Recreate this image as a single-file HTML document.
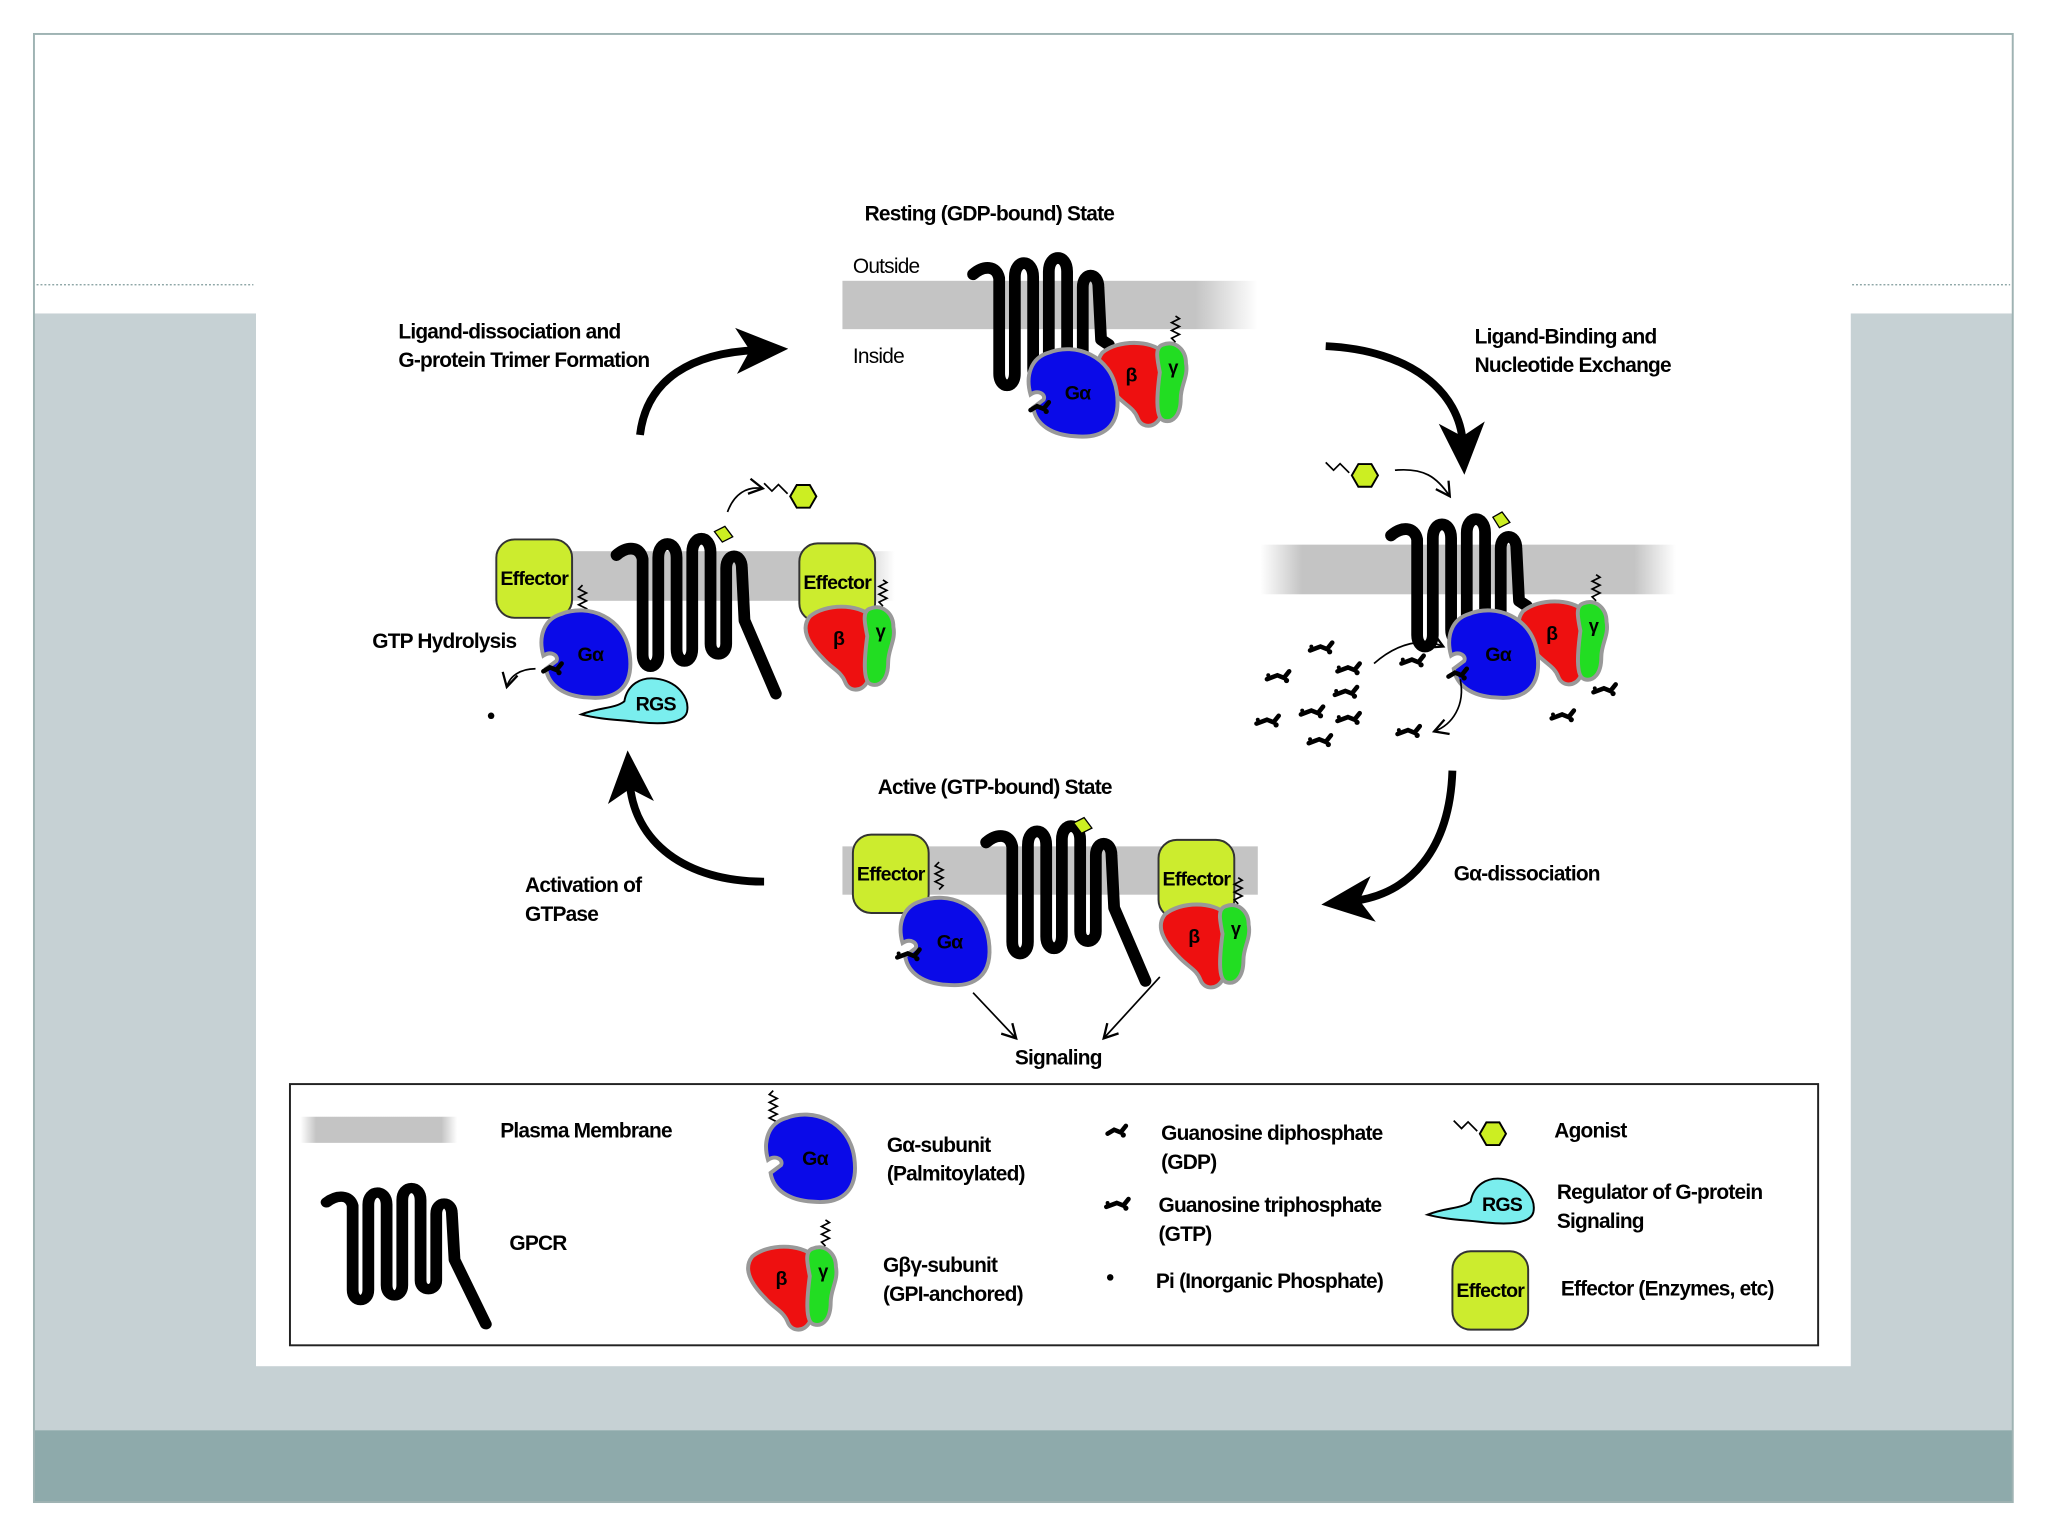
<!DOCTYPE html>
<html><head><meta charset="utf-8"><style>html,body{margin:0;padding:0;background:#fff}svg{display:block}text{font-family:"Liberation Sans",sans-serif;font-weight:bold;letter-spacing:-0.6px}</style></head>
<body>
<svg width="2048" height="1536" viewBox="0 0 1568 1176" preserveAspectRatio="none" xmlns="http://www.w3.org/2000/svg">
<defs>
<linearGradient id="mem" x1="0" x2="1"><stop offset="0" stop-color="#c4c4c4"/><stop offset="0.85" stop-color="#c4c4c4"/><stop offset="1" stop-color="#c4c4c4" stop-opacity="0"/></linearGradient>
<linearGradient id="mem2" x1="0" x2="1"><stop offset="0" stop-color="#c4c4c4" stop-opacity="0"/><stop offset="0.1" stop-color="#c4c4c4"/><stop offset="0.9" stop-color="#c4c4c4"/><stop offset="1" stop-color="#c4c4c4" stop-opacity="0"/></linearGradient>
<marker id="big" markerUnits="userSpaceOnUse" markerWidth="40" markerHeight="40" viewBox="0 0 34 30" refX="14" refY="15" orient="auto"><path d="M0,0 L34,15 L0,30 L9,15 Z" fill="#000"/></marker>
<marker id="sm" markerUnits="userSpaceOnUse" markerWidth="14" markerHeight="14" viewBox="0 0 12 12" refX="10" refY="6" orient="auto"><path d="M1,1 L10,6 L1,11" fill="none" stroke="#000" stroke-width="1.5"/></marker>
<g id="gpcr"><path d="M0,12 C8,5 18,5 20,15 L20,88 C20,100 32,100 32,88 L32,14 C32,0 46,0 46,14 L46,84 C46,96 58,96 58,84 L58,10 C58,-4 72,-4 72,10 L72,80 C72,90 84,90 84,80 L84,22 C84,10 96,10 96,22 L98,62 L104,66" fill="none" stroke="#000" stroke-width="9" stroke-linejoin="round" stroke-linecap="round"/></g>
<g id="gpcrT"><path d="M0,12 C8,5 18,5 20,15 L20,88 C20,100 32,100 32,88 L32,14 C32,0 46,0 46,14 L46,84 C46,96 58,96 58,84 L58,10 C58,-4 72,-4 72,10 L72,80 C72,90 84,90 84,80 L84,22 C84,10 96,10 96,22 L98,62 L122,118" fill="none" stroke="#000" stroke-width="9" stroke-linejoin="round" stroke-linecap="round"/></g>
<g id="ga"><path d="M-20,-30 C0,-38 28,-28 32,0 C36,28 20,36 0,34 C-18,33 -30,25 -32,12 L-24,6 C-22,2 -28,-2 -34,2 C-38,-12 -34,-26 -20,-30 Z" fill="#0a0ae8" stroke="#999" stroke-width="3"/><text x="2" y="6" font-size="15" text-anchor="middle" fill="#000">Gα</text></g>
<g id="gby"><path d="M-22,-20 C-10,-30 15,-30 25,-20 C30,-5 28,15 22,30 C18,38 8,38 5,30 C2,22 -5,20 -12,12 C-22,2 -30,-10 -22,-20 Z" fill="#ee1010" stroke="#999" stroke-width="3"/><text x="0" y="2" font-size="15" text-anchor="middle">β</text>
<path d="M24,-26 C34,-30 42,-22 42,-12 C44,-2 38,5 38,15 C38,28 32,34 25,32 C18,30 20,10 22,-5 C20,-15 18,-24 24,-26Z" fill="#22dd22" stroke="#999" stroke-width="3"/><text x="32" y="-4" font-size="14" text-anchor="middle">γ</text>
<path d="M34,-28 l-3,-3 l6,-3 l-6,-3 l6,-3 l-6,-3 l6,-3 l-3,-2" fill="none" stroke="#000" stroke-width="1.3"/></g>
<g id="eff"><rect x="0" y="0" width="58" height="60" rx="14" fill="#ccec2e" stroke="#333" stroke-width="1.5"/><text x="29" y="35" font-size="15" text-anchor="middle">Effector</text></g>
<g id="lig"><path d="M-30,-10 l6,6 l5,-5 l7,7" fill="none" stroke="#000" stroke-width="1.3"/><polygon points="10,0 5,8.7 -5,8.7 -10,0 -5,-8.7 5,-8.7" fill="#ccee22" stroke="#000" stroke-width="1.5"/></g>
<g id="gdp"><path d="M-7,2 L-2,-1 L3,1 L7,-4" fill="none" stroke="#000" stroke-width="3.5" stroke-linecap="round"/><circle cx="5" cy="3" r="2"/></g>
<g id="gtp"><path d="M-10,2 L-2,-1 L3,1 L7,-4" fill="none" stroke="#000" stroke-width="3.5" stroke-linecap="round"/><circle cx="5" cy="3" r="2"/><circle cx="-9" cy="-1" r="1.5"/></g>
<g id="rgs"><path d="M-45,12 C-30,6 -20,8 -12,2 C-10,-10 0,-18 15,-15 C30,-12 38,0 36,10 C34,18 20,20 0,18 C-15,16 -30,16 -45,12 Z" fill="#7aeeee" stroke="#000" stroke-width="1.5"/><text x="12" y="9" font-size="15" text-anchor="middle">RGS</text></g>
</defs>

<rect x="0" y="0" width="1568" height="1176" fill="#fff"/>
<rect x="26" y="240" width="1515" height="855" fill="#c6d1d4"/>
<rect x="26" y="1095" width="1515" height="55" fill="#8eaaab"/>
<rect x="196" y="26" width="1221" height="1020" fill="#fff"/>
<rect x="26" y="26" width="1515" height="1124" fill="none" stroke="#9fb3b3" stroke-width="1.5"/>
<line x1="28" y1="218" x2="194" y2="218" stroke="#8fa" stroke-width="1" stroke-dasharray="1.5 1.5" style="stroke:#7f9a9a"/>
<line x1="1418" y1="218" x2="1539" y2="218" stroke-width="1" stroke-dasharray="1.5 1.5" style="stroke:#7f9a9a"/>

<!-- Resting -->
<text x="662" y="169" font-size="16">Resting (GDP-bound) State</text>
<rect x="645" y="215" width="318" height="37" fill="url(#mem)"/>
<text x="653" y="209" font-size="16" font-weight="normal" style="font-weight:normal">Outside</text>
<text x="653" y="278" font-size="16" style="font-weight:normal">Inside</text>
<use href="#gpcr" transform="translate(745,198)"/>
<use href="#gby" transform="translate(866,290)"/>
<use href="#ga" transform="translate(823,300)"/>
<use href="#gdp" transform="translate(796,312)"/>

<!-- Right -->
<text x="1129" y="263" font-size="16">Ligand-Binding and</text>
<text x="1129" y="285" font-size="16">Nucleotide Exchange</text>
<rect x="965" y="417" width="318" height="38" fill="url(#mem2)"/>
<use href="#lig" transform="translate(1045,364)"/>
<path d="M1068,360 C1090,358 1100,365 1110,380" fill="none" stroke="#000" stroke-width="1.3" marker-end="url(#sm)"/>
<polygon points="1148,404 1143,396 1150,392 1156,400" fill="#ccee22" stroke="#000"/>
<use href="#gpcr" transform="translate(1065,398)"/>
<use href="#gby" transform="translate(1188,488)"/>
<use href="#ga" transform="translate(1145,500)"/>
<use href="#gdp" transform="translate(1116,516)"/>
<path d="M1052,508 C1070,492 1090,488 1105,495" fill="none" stroke="#000" stroke-width="1.3" marker-end="url(#sm)"/>
<path d="M1118,520 C1122,540 1112,555 1098,560" fill="none" stroke="#000" stroke-width="1.3" marker-end="url(#sm)"/>
<use href="#gtp" transform="translate(1013,496)"/><use href="#gtp" transform="translate(980,518)"/>
<use href="#gtp" transform="translate(1034,512)"/><use href="#gtp" transform="translate(1083,506)"/>
<use href="#gtp" transform="translate(1032,530)"/><use href="#gtp" transform="translate(1006,545)"/>
<use href="#gtp" transform="translate(972,552)"/><use href="#gtp" transform="translate(1034,550)"/>
<use href="#gtp" transform="translate(1012,567)"/><use href="#gtp" transform="translate(1080,560)"/>
<use href="#gtp" transform="translate(1198,548)"/><use href="#gtp" transform="translate(1230,528)"/>

<!-- Bottom -->
<text x="672" y="608" font-size="16">Active (GTP-bound) State</text>
<rect x="645" y="648" width="318" height="37" fill="#c4c4c4"/>
<use href="#eff" transform="translate(653,639)"/>
<path d="M719,660 l-3,3 l6,3 l-6,3 l6,3 l-6,3 l6,3 l-3,3" fill="none" stroke="#000" stroke-width="1.3"/>
<use href="#gpcrT" transform="translate(755,633)"/>
<polygon points="828,638 822,630 830,626 836,634" fill="#ccee22" stroke="#000"/>
<use href="#ga" transform="translate(725,720)"/>
<use href="#gtp" transform="translate(697,731)"/>
<use href="#eff" transform="translate(887,643)"/>
<use href="#gby" transform="translate(914,720)"/>
<line x1="745" y1="760" x2="778" y2="795" stroke="#000" stroke-width="1.3" marker-end="url(#sm)"/>
<line x1="888" y1="748" x2="845" y2="795" stroke="#000" stroke-width="1.3" marker-end="url(#sm)"/>
<text x="777" y="815" font-size="16">Signaling</text>

<!-- Left -->
<rect x="375" y="422" width="310" height="38" fill="url(#mem2)"/>
<use href="#eff" transform="translate(380,413)"/>
<path d="M446,448 l-3,3 l6,3 l-6,3 l6,3 l-6,3 l6,3 l-3,3" fill="none" stroke="#000" stroke-width="1.3"/>
<use href="#gpcrT" transform="translate(472,413)"/>
<polygon points="553,415 547,407 555,403 561,411" fill="#ccee22" stroke="#000"/>
<use href="#lig" transform="translate(615,380)"/>
<path d="M557,392 C562,378 572,372 584,374" fill="none" stroke="#000" stroke-width="1.3" marker-end="url(#sm)"/>
<use href="#eff" transform="translate(612,416)"/>
<use href="#gby" transform="translate(642,492)"/>
<use href="#rgs" transform="translate(490,535)"/>
<use href="#ga" transform="translate(450,500)"/>
<use href="#gdp" transform="translate(423,512)"/>
<path d="M410,512 C398,512 390,518 388,526" fill="none" stroke="#000" stroke-width="1.3" marker-end="url(#sm)"/>
<circle cx="376" cy="548" r="2.5"/>
<text x="285" y="496" font-size="16">GTP Hydrolysis</text>

<!-- big arrows -->
<path d="M490,333 C495,290 530,270 580,268" fill="none" stroke="#000" stroke-width="6" marker-end="url(#big)"/>
<path d="M1015,265 C1080,268 1118,300 1120,340" fill="none" stroke="#000" stroke-width="6" marker-end="url(#big)"/>
<path d="M1112,590 C1110,650 1080,685 1035,690" fill="none" stroke="#000" stroke-width="6" marker-end="url(#big)"/>
<path d="M585,675 C525,675 485,645 482,598" fill="none" stroke="#000" stroke-width="6" marker-end="url(#big)"/>
<text x="305" y="259" font-size="16">Ligand-dissociation and</text>
<text x="305" y="281" font-size="16">G-protein Trimer Formation</text>
<text x="1113" y="674" font-size="16">Gα-dissociation</text>
<text x="402" y="683" font-size="16">Activation of</text>
<text x="402" y="705" font-size="16">GTPase</text>

<!-- Legend -->
<rect x="222" y="830" width="1170" height="200" fill="#fff" stroke="#222" stroke-width="1.5"/>
<rect x="230" y="855" width="120" height="20" fill="url(#mem2)"/>
<text x="383" y="871" font-size="16">Plasma Membrane</text>
<use href="#gpcrT" transform="translate(250,910) scale(1,0.88)"/>
<text x="390" y="957" font-size="16">GPCR</text>
<path d="M592,835 l-3,3 l6,3 l-6,3 l6,3 l-6,3 l6,3 l-6,3 l6,3 l-3,3" fill="none" stroke="#000" stroke-width="1.3"/>
<use href="#ga" transform="translate(622,886)"/>
<text x="679" y="882" font-size="16">Gα-subunit</text>
<text x="679" y="904" font-size="16">(Palmitoylated)</text>
<use href="#gby" transform="translate(598,982)"/>
<text x="676" y="974" font-size="16">Gβγ-subunit</text>
<text x="676" y="996" font-size="16">(GPI-anchored)</text>
<use href="#gdp" transform="translate(855,866)"/>
<text x="889" y="873" font-size="16">Guanosine diphosphate</text>
<text x="889" y="895" font-size="16">(GDP)</text>
<use href="#gtp" transform="translate(857,922)"/>
<text x="887" y="928" font-size="16">Guanosine triphosphate</text>
<text x="887" y="950" font-size="16">(GTP)</text>
<circle cx="850" cy="978" r="2.5"/>
<text x="885" y="986" font-size="16">Pi (Inorganic Phosphate)</text>
<use href="#lig" transform="translate(1143,868)"/>
<text x="1190" y="871" font-size="16">Agonist</text>
<use href="#rgs" transform="translate(1138,918)"/>
<text x="1192" y="918" font-size="16">Regulator of G-protein</text>
<text x="1192" y="940" font-size="16">Signaling</text>
<use href="#eff" transform="translate(1112,958)"/>
<text x="1195" y="992" font-size="16">Effector (Enzymes, etc)</text>
</svg>
</body></html>
